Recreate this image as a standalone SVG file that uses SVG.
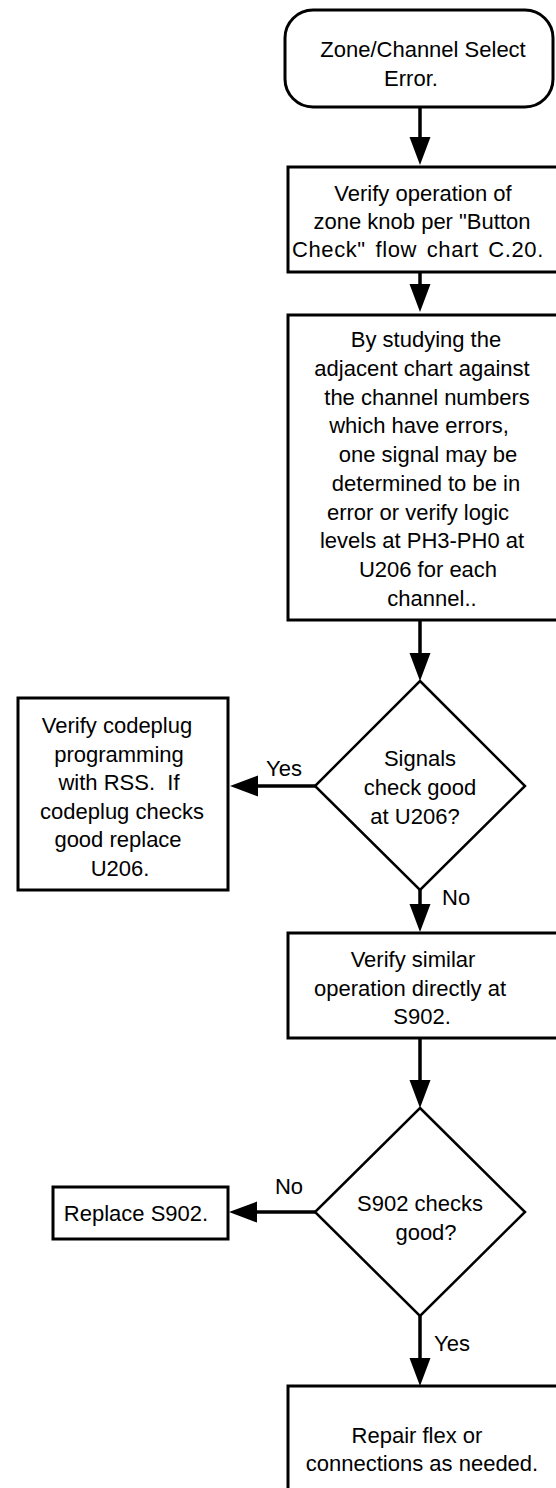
<svg xmlns="http://www.w3.org/2000/svg" width="556" height="1488" viewBox="0 0 556 1488">
<style>
.shape{fill:#fff;stroke:#000;stroke-width:3}
.dia{fill:#fff;stroke:#000;stroke-width:2.5}
.conn{fill:none;stroke:#000;stroke-width:3.5}
text{font-family:"Liberation Sans",Arial,sans-serif;font-size:22px;fill:#000}
.c{text-anchor:middle}
</style>
<defs>
<marker id="ah" markerUnits="userSpaceOnUse" markerWidth="28" markerHeight="22" refX="18" refY="11" orient="auto">
<path d="M0,0.5 L28,11 L0,21.5 z" fill="#000"/>
</marker>
</defs>
<g id="connectors">
<line class="conn" x1="420" y1="107" x2="420" y2="155" marker-end="url(#ah)"/>
<line class="conn" x1="420" y1="272" x2="420" y2="302" marker-end="url(#ah)"/>
<line class="conn" x1="420" y1="620" x2="420" y2="671" marker-end="url(#ah)"/>
<line class="conn" x1="315" y1="786" x2="240" y2="786" marker-end="url(#ah)"/>
<line class="conn" x1="420" y1="890" x2="420" y2="922" marker-end="url(#ah)"/>
<line class="conn" x1="420" y1="1038" x2="420" y2="1098" marker-end="url(#ah)"/>
<line class="conn" x1="315" y1="1212" x2="239" y2="1212" marker-end="url(#ah)"/>
<line class="conn" x1="420" y1="1316" x2="420" y2="1376" marker-end="url(#ah)"/>
<text x="284" y="776" class="c">Yes</text>
<text x="442" y="905">No</text>
<text x="289" y="1194" class="c">No</text>
<text x="434" y="1351">Yes</text>
</g>
<g id="start">
<rect class="shape" x="285" y="10" width="268" height="97" rx="28" ry="28"/>
<text x="423" y="57" class="c">Zone/Channel Select</text>
<text x="411" y="86" class="c">Error.</text>
</g>
<g id="verify-knob">
<rect class="shape" x="288" y="167" width="275" height="105"/>
<text x="423" y="201" class="c">Verify operation of</text>
<text x="422" y="229" class="c">zone knob per "Button</text>
<text x="292" y="257" style="word-spacing:3px;letter-spacing:0.6px">Check" flow chart C.20.</text>
</g>
<g id="study-chart">
<rect class="shape" x="288" y="315" width="275" height="305"/>
<text x="426" y="347" class="c">By studying the</text>
<text x="422" y="376" class="c">adjacent chart against</text>
<text x="427" y="405" class="c">the channel numbers</text>
<text x="419" y="433" class="c">which have errors,</text>
<text x="428" y="462" class="c">one signal may be</text>
<text x="426" y="491" class="c">determined to be in</text>
<text x="418" y="520" class="c">error or verify logic</text>
<text x="422" y="548" class="c">levels at PH3-PH0 at</text>
<text x="428" y="577" class="c">U206 for each</text>
<text x="432" y="606" class="c">channel..</text>
</g>
<g id="signals-decision">
<polygon class="dia" points="420,681 525,786 420,890 315,786"/>
<text x="420" y="766" class="c">Signals</text>
<text x="420" y="795" class="c">check good</text>
<text x="415" y="824" class="c">at U206?</text>
</g>
<g id="verify-codeplug">
<rect class="shape" x="18" y="698" width="210" height="192"/>
<text x="117" y="733" class="c">Verify codeplug</text>
<text x="119" y="762" class="c">programming</text>
<text x="119" y="790" class="c" style="white-space:pre">with RSS.  If</text>
<text x="122" y="819" class="c">codeplug checks</text>
<text x="118" y="847" class="c">good replace</text>
<text x="120" y="876" class="c">U206.</text>
</g>
<g id="verify-s902">
<rect class="shape" x="288" y="933" width="275" height="105"/>
<text x="413" y="967" class="c">Verify similar</text>
<text x="410" y="996" class="c">operation directly at</text>
<text x="422" y="1024" class="c">S902.</text>
</g>
<g id="s902-decision">
<polygon class="dia" points="420,1108 525,1212 420,1316 315,1212"/>
<text x="420" y="1211" class="c">S902 checks</text>
<text x="426" y="1240" class="c">good?</text>
</g>
<g id="replace-s902">
<rect class="shape" x="53" y="1187" width="175" height="52"/>
<text x="136" y="1221" class="c">Replace S902.</text>
</g>
<g id="repair-flex">
<rect class="shape" x="288" y="1386" width="275" height="120"/>
<text x="417" y="1443" class="c">Repair flex or</text>
<text x="422" y="1471" class="c">connections as needed.</text>
</g>
</svg>
